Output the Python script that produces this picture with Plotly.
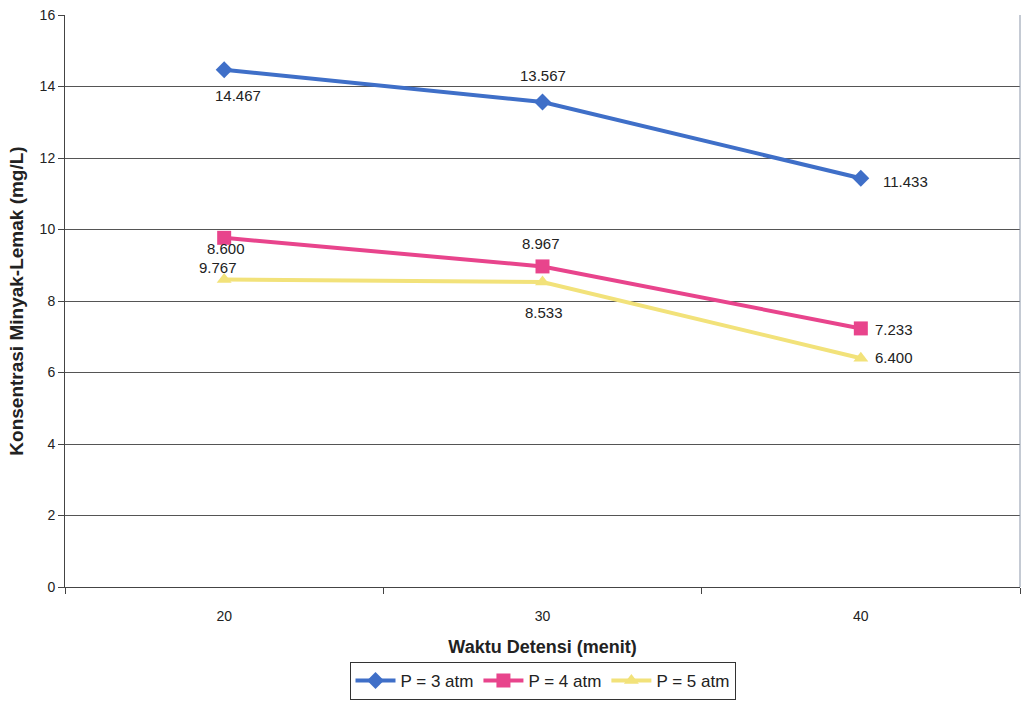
import plotly.graph_objects as go

# Detention time categories (minutes)
waktu = ["20", "30", "40"]

# Oil-grease concentration (mg/L) for each pressure
p3_atm = [14.467, 13.567, 11.433]
p4_atm = [9.767, 8.967, 7.233]
p5_atm = [8.600, 8.533, 6.400]

series_names = ["P = 3 atm", "P = 4 atm", "P = 5 atm"]
y_ticks = [0, 2, 4, 6, 8, 10, 12, 14, 16]

colors = ["#3F6FC8", "#E8448C", "#F2E27A"]
symbols = ["diamond", "square", "triangle-up"]
sizes = [13, 14, 13]

FONT = "Liberation Sans, Arial, sans-serif"

fig = go.Figure()
for name, vals, c, s, sz in zip(series_names, [p3_atm, p4_atm, p5_atm], colors, symbols, sizes):
    fig.add_trace(go.Scatter(
        x=waktu, y=vals, name=name, mode="lines+markers",
        line=dict(color=c, width=4),
        marker=dict(symbol=s, size=sz, color=c),
    ))

# Data label placement (pixel offsets from each point)
label_offsets = {
    0: [(14, -26, "center"), (0, 26, "center"), (20, -3, "left")],
    1: [(-6, -30, "center"), (-2, 23, "center"), (12, -1, "left")],
    2: [(2, 31, "center"), (1, -31, "center"), (12, 1, "left")],
}
for i, vals in enumerate([p3_atm, p4_atm, p5_atm]):
    for j, v in enumerate(vals):
        dx, dy, anchor = label_offsets[i][j]
        fig.add_annotation(
            x=j, y=v, text=f"{v:.3f}", showarrow=False,
            xshift=dx, yshift=dy, xanchor=anchor, yanchor="middle",
            font=dict(family=FONT, size=15, color="#222"),
        )

fig.update_layout(
    width=1026, height=702,
    margin=dict(l=65, r=6, t=15, b=115, autoexpand=False),
    paper_bgcolor="white", plot_bgcolor="white",
    font=dict(family=FONT, color="#222"),
    showlegend=True,
    legend=dict(
        orientation="h", x=0.5, xanchor="center",
        y=(587 - 700) / 572, yanchor="bottom",
        bordercolor="#333", borderwidth=1, bgcolor="white",
        font=dict(size=17, color="#222"), itemwidth=40,
        tracegroupgap=0, itemclick=False,
    ),
    xaxis=dict(
        type="category", range=[-0.5, 2.5],
        showgrid=False, showline=True, linecolor="#444", linewidth=1,
        mirror=False, ticks="outside", tickson="boundaries", ticklen=6,
        tickcolor="#444", ticklabelstandoff=16,
        tickfont=dict(size=14, color="#222"),
        title=dict(text="<b>Waktu Detensi (menit)</b>", font=dict(size=18, color="#222"), standoff=17),
    ),
    yaxis=dict(
        range=[0, 16], tickvals=y_ticks,
        showgrid=True, gridcolor="#555", gridwidth=1,
        showline=True, linecolor="#444", linewidth=1,
        ticks="outside", ticklen=6, tickcolor="#444",
        tickfont=dict(size=14, color="#222"),
        zeroline=False,
        title=dict(text="<b>Konsentrasi Minyak-Lemak (mg/L)</b>", font=dict(size=19, color="#222"), standoff=10),
    ),
)

# Right border of the plot area
fig.add_shape(type="line", xref="paper", yref="paper", x0=1, x1=1, y0=0, y1=1,
              line=dict(color="#8A95A8", width=1))

fig.write_html("out.html")
